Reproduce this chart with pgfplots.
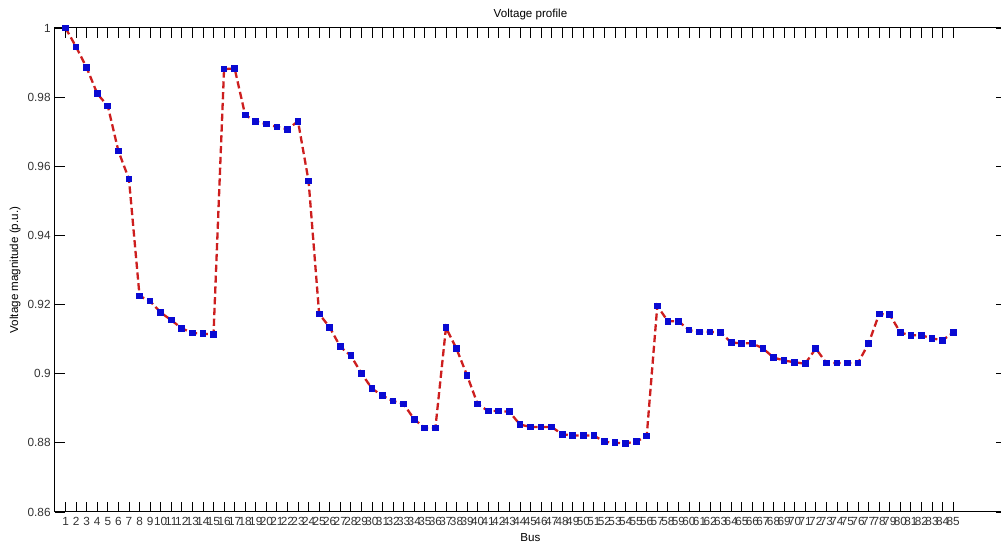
\documentclass[border=0pt]{standalone}
\usepackage{pgfplots}
\pgfplotsset{compat=1.18}
\usepackage{fontspec}
\setmainfont{Liberation Sans}
\definecolor{lred}{RGB}{205,30,30}
\definecolor{mblue}{RGB}{10,10,210}
\begin{document}
\begin{tikzpicture}
\begin{axis}[
  scale only axis,
  width=475.5pt, height=242pt,
  xmin=0, xmax=90, ymin=0.86, ymax=1,
  xtick={1,...,85},
  ytick={0.86,0.88,0.90,0.92,0.94,0.96,0.98,1},
  yticklabels={0.86,0.88,0.9,0.92,0.94,0.96,0.98,1},
  tick align=inside,
  major tick length=5pt,
  tick style={black, line width=0.4pt},
  axis line style={black, line width=0.5pt},
  /pgf/number format/assume math mode=true,
  tick label style={font=\fontsize{5.9}{7}\selectfont, text=black!80},
  xticklabel style={inner sep=1pt, yshift=-1.5pt},
  yticklabel style={inner sep=1pt, xshift=-1pt},
  title={Voltage profile},
  title style={font=\fontsize{5.8}{7}\selectfont, yshift=-5.5pt},
  xlabel={Bus},
  xlabel style={font=\fontsize{5.8}{7}\selectfont, yshift=0.8pt},
  ylabel={Voltage magnitude (p.u.)},
  ylabel style={font=\fontsize{5.8}{7}\selectfont, yshift=-1pt},
]
\addplot[color=lred, line width=1.15pt, dash pattern=on 3.6pt off 1.8pt,
  mark=square*, mark size=1.1pt, mark options={solid, fill=mblue, draw=mblue}]
coordinates {
(1,1.0000)(2,0.9945)(3,0.9885)(4,0.9810)(5,0.9774)(6,0.9644)(7,0.9563)(8,0.9225)(9,0.9210)(10,0.9177)
(11,0.9155)(12,0.9131)(13,0.9118)(14,0.9116)(15,0.9113)(16,0.9881)(17,0.9883)(18,0.9748)(19,0.9730)(20,0.9722)
(21,0.9714)(22,0.9707)(23,0.9730)(24,0.9557)(25,0.9173)(26,0.9134)(27,0.9078)(28,0.9052)(29,0.9001)(30,0.8957)
(31,0.8936)(32,0.8921)(33,0.8912)(34,0.8868)(35,0.8843)(36,0.8843)(37,0.9133)(38,0.9072)(39,0.8995)(40,0.8912)
(41,0.8892)(42,0.8892)(43,0.8890)(44,0.8853)(45,0.8846)(46,0.8846)(47,0.8846)(48,0.8825)(49,0.8821)(50,0.8821)
(51,0.8821)(52,0.8803)(53,0.8800)(54,0.8799)(55,0.8803)(56,0.8820)(57,0.9196)(58,0.9152)(59,0.9152)(60,0.9126)
(61,0.9121)(62,0.9121)(63,0.9119)(64,0.9090)(65,0.9088)(66,0.9088)(67,0.9073)(68,0.9047)(69,0.9038)(70,0.9033)
(71,0.9029)(72,0.9073)(73,0.9031)(74,0.9031)(75,0.9031)(76,0.9031)(77,0.9088)(78,0.9173)(79,0.9171)(80,0.9119)
(81,0.9111)(82,0.9111)(83,0.9102)(84,0.9097)(85,0.9119)
};
\end{axis}
\pgfresetboundingbox
\path (current axis.south west) ++(-27.5pt,-16pt) rectangle ++(500.5pt,272pt);
\end{tikzpicture}
\end{document}
